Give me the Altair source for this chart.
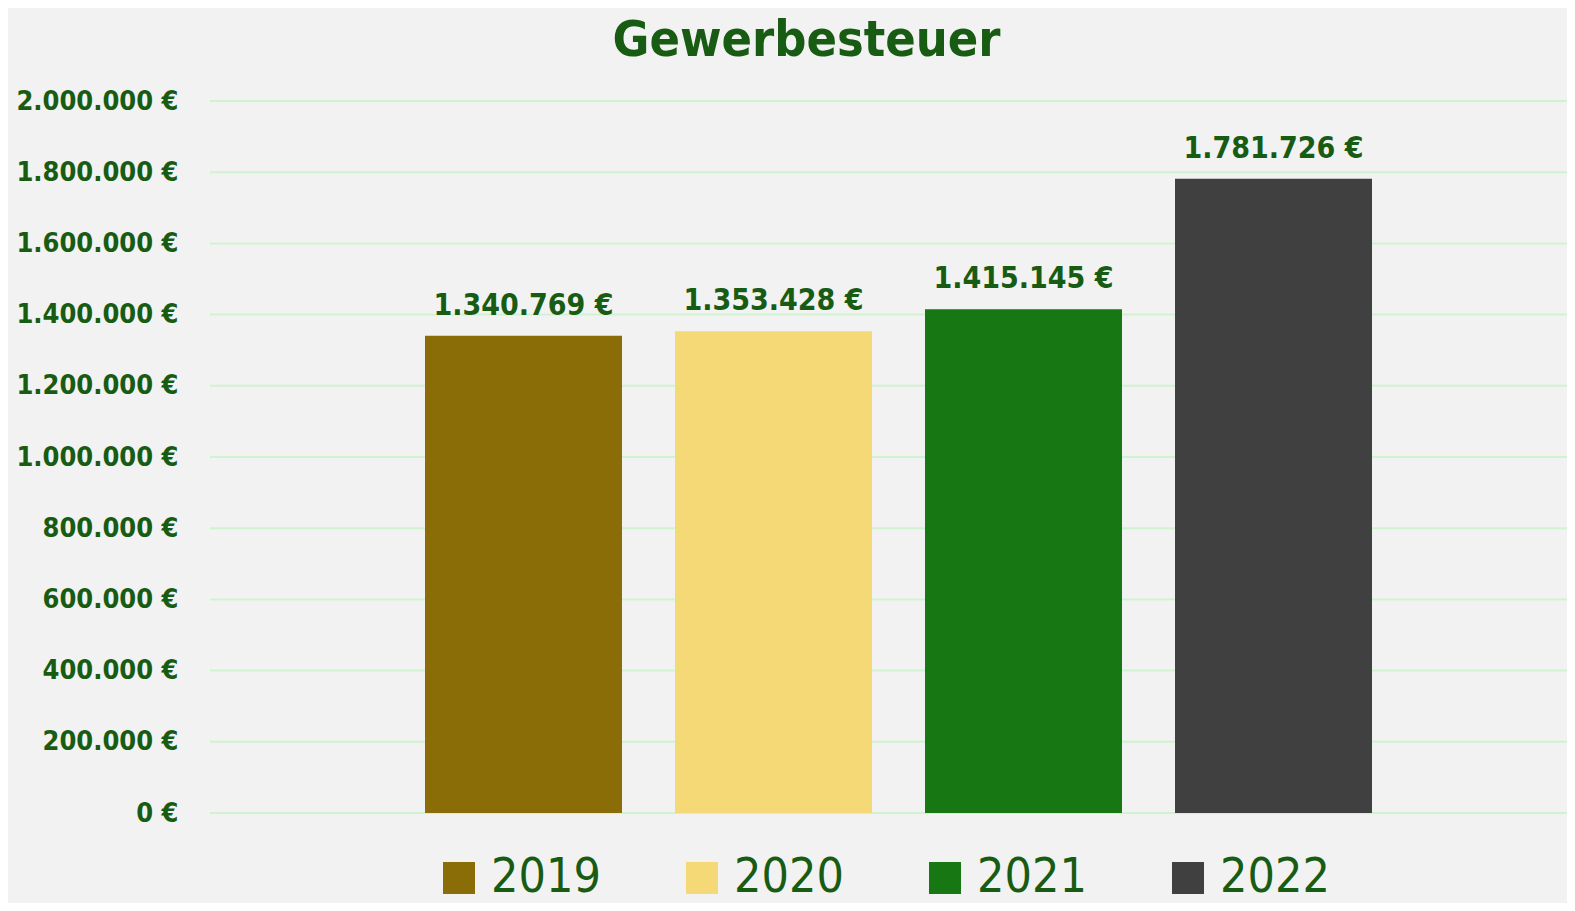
import altair as alt
import pandas as pd

years = ["2019", "2020", "2021", "2022"]
values = [1340769, 1353428, 1415145, 1781726]
colors = ["#8B6D08", "#F5D976", "#177712", "#404040"]
y_ticks = [0, 200000, 400000, 600000, 800000, 1000000, 1200000, 1400000, 1600000, 1800000, 2000000]
title_text = "Gewerbesteuer"

df = pd.DataFrame({"Jahr": years, "Wert": values})
df["Label"] = [f"{v:,}".replace(",", ".") + " €" for v in values]
grid_df = pd.DataFrame({"Wert": y_ticks})

FONT = "DejaVu Sans Condensed"
TXT = "#185c14"
PLOT_W = 1357
PLOT_H = 712

y_axis = alt.Axis(
    values=y_ticks,
    title=None,
    labelExpr="replace(format(datum.value, ',.0f'), regexp(',', 'g'), '.') + ' €'",
    labelFont=FONT, labelFontSize=27, labelFontWeight="bold",
    labelColor=TXT, labelPadding=32,
    domain=False, ticks=False, grid=False,
)
y_enc = alt.Y("Wert:Q", scale=alt.Scale(domain=[0, 2000000]), axis=y_axis)

grid = alt.Chart(grid_df).mark_rule(color="#cff3cf", strokeWidth=2).encode(
    y=y_enc,
    x=alt.value(0),
    x2=alt.value(PLOT_W),
)

base = alt.Chart(df).encode(
    x=alt.X("Jahr:N", sort=years,
            scale=alt.Scale(range=[215, 1162], paddingInner=0.212, paddingOuter=0),
            axis=None),
    y=y_enc,
)

bars = base.mark_bar().encode(
    color=alt.Color("Jahr:N", sort=years,
                    scale=alt.Scale(domain=years, range=colors),
                    legend=alt.Legend(
                        title=None, orient="none", direction="horizontal", columns=4,
                        legendX=225, legendY=753,
                        symbolType="square", symbolSize=1024, symbolStrokeWidth=0,
                        symbolOpacity=1,
                        labelFont=FONT, labelFontSize=48, labelColor=TXT,
                        labelOffset=8, columnPadding=77, labelLimit=300,
                    )),
)

labels = base.mark_text(
    baseline="alphabetic", dy=-21, font=FONT, fontSize=30,
    fontWeight="bold", color=TXT,
).encode(text="Label:N")

chart = (grid + bars + labels).properties(
    width=PLOT_W, height=PLOT_H,
    padding={"left": 202, "top": 93, "right": 0, "bottom": 90},
    autosize=alt.AutoSizeParams(type="none"),
    background="#f2f2f2",
    title=alt.TitleParams(title_text, font=FONT, fontSize=50, fontWeight="bold",
                          color=TXT, anchor="middle", dx=-82, offset=21),
).configure_view(stroke=None)

chart.save("out.html", embed_options={"renderer": "svg", "actions": False})
